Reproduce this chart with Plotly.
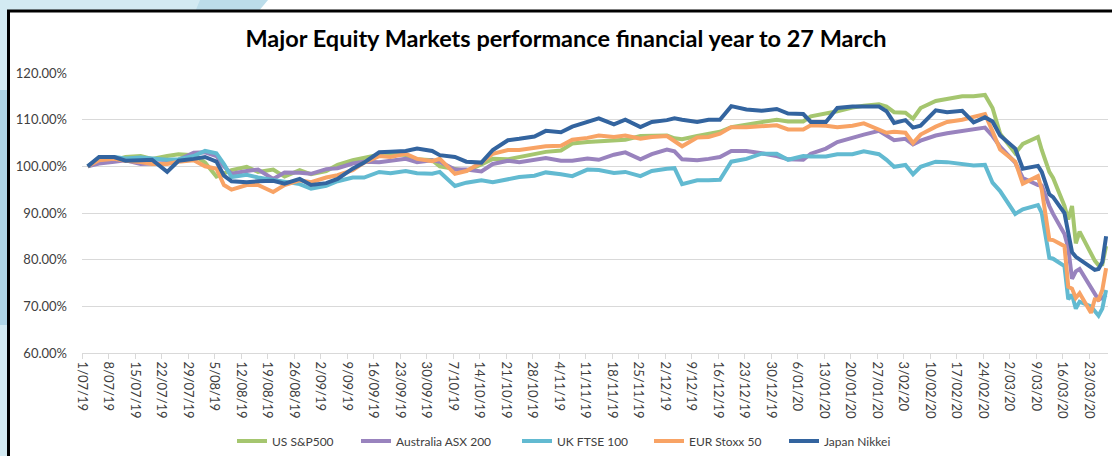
import pandas as pd
import plotly.graph_objects as go

dates = [
    "2019-07-02", "2019-07-05", "2019-07-09", "2019-07-12", "2019-07-16", "2019-07-19", "2019-07-23", "2019-07-26", "2019-07-30",
    "2019-08-02", "2019-08-05", "2019-08-07", "2019-08-09", "2019-08-13", "2019-08-16", "2019-08-20", "2019-08-23", "2019-08-27", "2019-08-30",
    "2019-09-03", "2019-09-06", "2019-09-10", "2019-09-13", "2019-09-17", "2019-09-20", "2019-09-24", "2019-09-27",
    "2019-10-01", "2019-10-03", "2019-10-07", "2019-10-10", "2019-10-14", "2019-10-17", "2019-10-21", "2019-10-24", "2019-10-28", "2019-10-31",
    "2019-11-04", "2019-11-07", "2019-11-11", "2019-11-14", "2019-11-18", "2019-11-21", "2019-11-25", "2019-11-28",
    "2019-12-02", "2019-12-04", "2019-12-06", "2019-12-10", "2019-12-13", "2019-12-16", "2019-12-19", "2019-12-23", "2019-12-27", "2019-12-31",
    "2020-01-03", "2020-01-07", "2020-01-09", "2020-01-13", "2020-01-16", "2020-01-20", "2020-01-23", "2020-01-27", "2020-01-29", "2020-01-31",
    "2020-02-03", "2020-02-05", "2020-02-07", "2020-02-11", "2020-02-14", "2020-02-18", "2020-02-21", "2020-02-24", "2020-02-26", "2020-02-28",
    "2020-03-03", "2020-03-05", "2020-03-09", "2020-03-10", "2020-03-12", "2020-03-13", "2020-03-16", "2020-03-17", "2020-03-18", "2020-03-19",
    "2020-03-20", "2020-03-23", "2020-03-24", "2020-03-25", "2020-03-26", "2020-03-27",
]

us_sp500 = [
    100.0, 101.0, 101.3, 102.0, 102.2, 101.6, 102.2, 102.6, 102.4,
    100.8, 97.8, 98.5, 99.2, 99.9, 98.8, 99.3, 97.8, 99.2, 98.3,
    99.0, 100.3, 101.3, 101.8, 102.5, 102.7, 102.4, 101.5,
    101.3, 100.0, 99.4, 99.0, 100.4, 101.6, 101.5, 102.0, 102.8, 103.1,
    103.4, 104.9, 105.2, 105.3, 105.6, 105.7, 106.5, 106.5,
    106.6, 106.0, 105.8, 106.5, 107.0, 107.4, 108.4, 109.0, 109.5, 110.0,
    109.6, 109.6, 110.7, 111.3, 111.8, 112.6, 113.0, 113.3, 112.8, 111.6,
    111.5, 110.2, 112.5, 114.0, 114.5, 115.0, 115.0, 115.3, 112.5, 107.0,
    102.8, 104.8, 106.3, 103.5, 98.8, 97.5, 91.5, 88.6, 91.5, 83.5,
    86.0, 81.0, 79.8, 78.8, 79.0, 82.9,
]

australia_asx200 = [
    100.0, 100.6, 101.0, 101.3, 100.5, 100.5, 100.7, 101.4, 102.9,
    103.0, 102.2, 100.0, 98.4, 99.0, 99.3, 97.3, 98.7, 98.6, 98.4,
    99.4, 99.6, 100.6, 101.0, 100.9, 101.2, 101.6, 100.9,
    101.3, 101.0, 99.3, 99.3, 98.9, 100.5, 101.2, 100.9, 101.5, 101.8,
    101.2, 101.2, 101.7, 101.4, 102.5, 103.0, 101.5, 102.6,
    103.6, 103.2, 101.5, 101.3, 101.6, 102.0, 103.3, 103.3, 102.8, 102.2,
    101.5, 101.4, 102.7, 103.8, 105.2, 106.2, 106.8, 107.6, 106.6, 105.6,
    105.9, 104.7, 105.5, 106.6, 107.1, 107.6, 107.9, 108.3, 106.5, 104.2,
    100.8, 97.5, 96.0, 95.9, 91.5, 89.8, 85.5, 82.5, 75.9, 77.5,
    78.0, 74.2, 72.8, 71.4, 71.8, 72.5,
]

uk_ftse100 = [
    100.0, 101.8, 102.0, 101.7, 101.9, 101.6, 101.4, 101.5, 102.2,
    103.3, 102.8, 100.5, 97.7, 98.2, 97.6, 97.1, 96.7, 96.2, 95.2,
    95.8, 96.8, 97.6, 97.6, 98.8, 98.5, 99.0, 98.5,
    98.4, 98.8, 95.8, 96.5, 97.0, 96.6, 97.2, 97.7, 98.0, 98.7,
    98.3, 97.9, 99.3, 99.2, 98.6, 98.8, 97.9, 99.0,
    99.5, 99.6, 96.2, 97.0, 97.0, 97.1, 101.0, 101.6, 102.7, 102.7,
    101.4, 102.2, 102.1, 102.1, 102.6, 102.6, 103.2, 102.6, 101.4, 99.9,
    100.3, 98.3, 99.9, 101.0, 100.9, 100.6, 100.2, 100.3, 96.5, 94.7,
    89.8, 90.8, 91.7, 90.0, 80.4, 80.2, 78.6, 71.5, 72.5, 69.5,
    71.0, 70.0, 69.0, 68.0, 69.5, 73.5,
]

eur_stoxx50 = [
    100.0, 101.3, 101.6, 101.2, 100.9, 100.5, 100.5, 101.0, 101.3,
    100.0, 99.5, 96.0, 95.0, 96.0, 96.0, 94.5, 96.0, 97.0, 96.6,
    97.6, 98.1, 99.2, 100.8, 102.2, 102.0, 102.7, 101.6,
    101.1, 101.6, 98.4, 99.0, 100.8, 102.7, 103.5, 103.5, 104.0, 104.3,
    104.4, 105.7, 106.1, 106.6, 106.3, 106.6, 105.9, 106.3,
    106.5, 105.5, 104.3, 106.2, 106.3, 107.0, 108.4, 108.4, 108.6, 108.8,
    107.9, 107.9, 108.8, 108.7, 108.4, 108.7, 109.2, 108.0, 107.2, 107.4,
    107.2, 105.0, 106.8, 108.5, 109.5, 110.0, 110.7, 111.2, 107.5, 103.6,
    101.0, 96.3, 97.9, 95.0, 84.3, 84.2, 82.9, 74.2, 73.8, 71.8,
    72.8, 68.6, 71.5, 71.4, 73.5, 78.2,
]

japan_nikkei = [
    100.0, 102.0, 102.0, 101.2, 101.3, 101.4, 98.8, 101.2, 101.6,
    102.0, 101.0, 98.0, 96.8, 96.6, 96.8, 96.9, 96.3, 97.3, 96.0,
    96.4, 97.3, 99.5, 100.8, 103.0, 103.1, 103.3, 103.8,
    103.3, 102.4, 102.0, 101.0, 100.8, 103.5, 105.6, 105.9, 106.4, 107.6,
    107.3, 108.5, 109.6, 110.3, 109.0, 110.0, 108.4, 109.5,
    109.9, 110.3, 110.0, 109.5, 110.0, 110.0, 112.9, 112.2, 111.9, 112.3,
    111.3, 111.2, 109.5, 109.5, 112.5, 112.8, 112.8, 112.8, 111.8, 109.3,
    109.9, 108.3, 108.7, 112.0, 111.6, 111.9, 109.4, 110.5, 109.6, 106.6,
    103.8, 99.5, 100.1, 98.8, 94.0, 93.4, 90.0, 86.0, 81.6, 80.6,
    80.0, 78.3, 77.8, 78.0, 79.5, 85.0,
]

series_names = ["US S&P500", "Australia ASX 200", "UK FTSE 100", "EUR Stoxx 50", "Japan Nikkei"]
series_values = [us_sp500, australia_asx200, uk_ftse100, eur_stoxx50, japan_nikkei]
series_colors = ["#A5C66F", "#9983BE", "#62BAD1", "#F8A365", "#33649F"]

title_text = "Major Equity Markets performance financial year to 27 March"

W, H = 1112, 456
ML, MR, MT, MB = 82, 4, 73, 103
PW, PH = W - ML - MR, H - MT - MB

# left edge (px) of each legend entry's line sample
legend_line_px = [238, 362, 523, 655, 790]


def px(x):
    return (x - ML) / PW


def py(y):
    return (H - MB - y) / PH


# daily points sit in the middle of each day slot (Excel date axis)
xdates = pd.to_datetime(dates) + pd.Timedelta(hours=12)

fig = go.Figure()
legend_ids = ["legend"] + [f"legend{i}" for i in range(2, len(series_names) + 1)]
for name, vals, col, lid in zip(series_names, series_values, series_colors, legend_ids):
    fig.add_trace(go.Scatter(
        x=xdates, y=vals, name=name, mode="lines",
        line=dict(color=col, width=4), legend=lid,
    ))

shapes = [
    # light blue page background strips
    dict(type="rect", xref="paper", yref="paper", x0=px(0), x1=px(10), y0=py(0), y1=py(H),
         fillcolor="#D3EAF2", line_width=0, layer="below"),
    dict(type="rect", xref="paper", yref="paper", x0=px(0), x1=px(10), y0=py(90), y1=py(325),
         fillcolor="#AFD5E6", line_width=0, layer="below"),
    dict(type="rect", xref="paper", yref="paper", x0=px(0), x1=px(205), y0=py(0), y1=py(12),
         fillcolor="#D3EAF2", line_width=0, layer="below"),
    dict(type="path", xref="paper", yref="paper",
         path=f"M {px(200)} {py(0)} L {px(268)} {py(0)} L {px(258)} {py(12)} L {px(195)} {py(12)} Z",
         fillcolor="#BCDDEA", line_width=0, layer="below"),
    # chart frame
    dict(type="rect", xref="paper", yref="paper", x0=px(8.5), x1=px(1130), y0=py(11), y1=py(480),
         fillcolor="white", line=dict(color="black", width=3), layer="below"),
]

legends = {}
for lid, lx in zip(legend_ids, legend_line_px):
    legends[lid] = dict(
        orientation="h", xref="container", x=(lx - 6) / W, xanchor="left",
        yref="container", y=1 - 441 / H, yanchor="middle",
        font=dict(size=12, color="#404040"),
        itemwidth=30, bgcolor="rgba(0,0,0,0)", borderwidth=0,
    )

fig.update_layout(
    width=W, height=H,
    margin=dict(l=ML, r=MR, t=MT, b=MB, autoexpand=False),
    paper_bgcolor="white",
    plot_bgcolor="rgba(0,0,0,0)",
    shapes=shapes,
    title=dict(
        text=f"<b>{title_text}</b>",
        x=566 / W, xref="container", xanchor="center",
        y=1 - 39 / H, yref="container", yanchor="middle",
        font=dict(family="Lato, Open Sans, sans-serif", size=23.5, color="black"),
    ),
    font=dict(family="Lato, Open Sans, sans-serif", size=13, color="#404040"),
    showlegend=True,
    xaxis=dict(
        type="date", automargin=False,
        range=["2019-07-01", "2020-03-28"],
        tick0="2019-07-01", dtick=7 * 86400000,
        tickformat="%-d/%m/%y", tickangle=90,
        ticks="outside", ticklen=5, tickcolor="#D9D9D9",
        showline=True, linecolor="#D9D9D9", linewidth=1,
        showgrid=False, zeroline=False,
        tickfont=dict(size=13, color="#404040"),
    ),
    yaxis=dict(
        automargin=False,
        range=[60, 120], dtick=10, tickformat=".2f", ticksuffix="%",
        showgrid=True, gridcolor="#D9D9D9", gridwidth=1,
        zeroline=False, showline=False, ticks="",
        ticklabelstandoff=14,
        tickfont=dict(size=13, color="#404040"),
    ),
    **legends,
)

fig.write_html(
    "out.html",
    config={"displayModeBar": False},
    post_script="document.body.style.margin='0px';",
)
